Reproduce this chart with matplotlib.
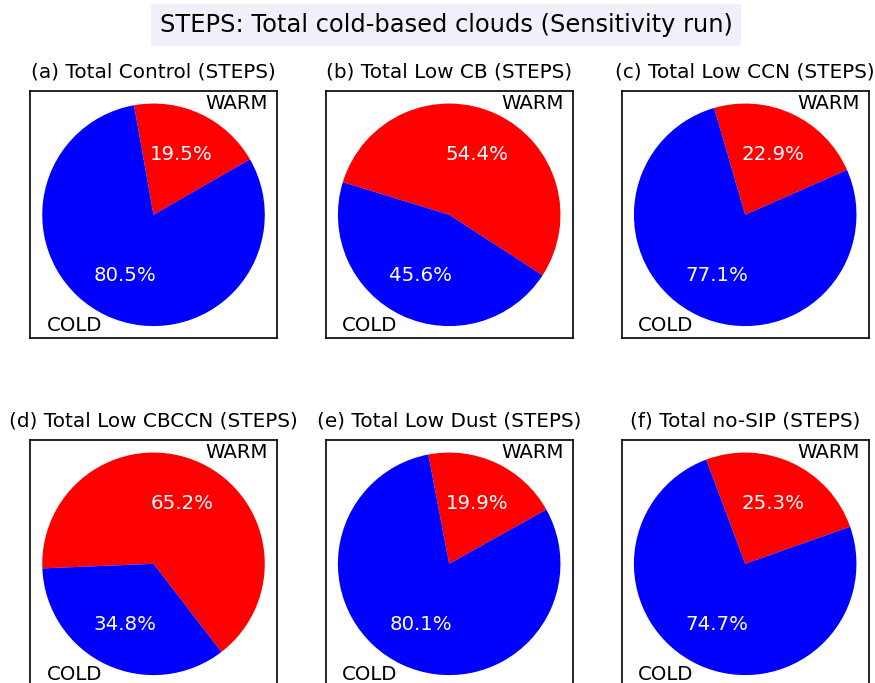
import matplotlib.pyplot as plt

# fraction of cold-based clouds, per sensitivity run
titles = ["(a) Total Control (STEPS)", "(b) Total Low CB (STEPS)",
          "(c) Total Low CCN (STEPS)", "(d) Total Low CBCCN (STEPS)",
          "(e) Total Low Dust (STEPS)", "(f) Total no-SIP (STEPS)"]
warm = [19.5, 54.4, 22.9, 65.2, 19.9, 25.3]
cold = [80.5, 45.6, 77.1, 34.8, 80.1, 74.7]
labels = ["WARM", "COLD"]
colors = ["red", "blue"]

fig = plt.figure(figsize=(8.75, 6.83), dpi=100)

lefts = [0.0343, 0.3722, 0.7105]
bottoms = [0.504, -0.007]
w, h = 0.2823, 0.363

for i in range(6):
    ax = fig.add_axes([lefts[i % 3], bottoms[i // 3], w, h])
    # warm wedge centred on 65 deg
    start = 65 - warm[i] * 1.8
    ax.pie([warm[i], cold[i]], labels=labels, colors=colors, startangle=start,
           autopct="%1.1f%%", pctdistance=0.6, labeldistance=1.1,
           textprops={"fontsize": 14.2}, wedgeprops={"linewidth": 0})
    for t in ax.texts:
        if "%" in t.get_text():
            t.set_color("white")
    ax.set_xlim(-1.11, 1.11)
    ax.set_ylim(-1.11, 1.11)
    ax.set_frame_on(True)
    for s in ax.spines.values():
        s.set_visible(True)
        s.set_linewidth(1.2)
    ax.set_title(titles[i], fontsize=14.4, pad=10)

fig.suptitle("STEPS: Total cold-based clouds (Sensitivity run)", fontsize=17.4,
             x=0.5097, y=0.9634, va="center",
             bbox=dict(facecolor="#f0f0fa", edgecolor="none", pad=6.3))

plt.savefig("out.png")
